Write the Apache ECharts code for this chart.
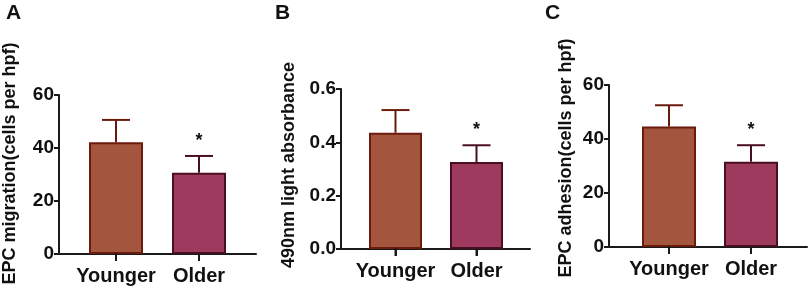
<!DOCTYPE html>
<html>
<head>
<meta charset="utf-8">
<script src="https://cdn.jsdelivr.net/npm/echarts@6/dist/echarts.min.js"></script>
<style>
  html, body { margin: 0; padding: 0; background: #fff; }
  #chart { width: 810px; height: 305px; }
</style>
</head>
<body>
<div id="chart"></div>
<script>
// data
const groups = ['Younger', 'Older'];
const migrationMean = [42.2, 30.7];
const migrationSd = [8.4, 6.3];
const absorbMean = [0.436, 0.326];
const absorbSd = [0.085, 0.063];
const adhesionMean = [44.6, 31.6];
const adhesionSd = [7.9, 6.1];
const stars = ['', '*'];
const panelLetters = ['A', 'B', 'C'];
const yNames = ['EPC migration(cells per hpf)', '490nm light absorbance', 'EPC adhesion(cells per hpf)'];
const yMax = [60, 0.6, 60];
const yStep = [20, 0.2, 20];

const fills = ['#A3553D', '#9D3A5D'];
const borders = ['#6B1B0E', '#4A0E22'];
const axisColor = '#1a1a1a';
const font = 'Liberation Sans, Arial, sans-serif';

// frame = axis box, bars = narrower grid so bars sit where they are in the figure
const layout = [
  { frameLeft: 57, frameRight: 256, top: 95, bottom: 254, barLeft: 74.5, barRight: 240.5, barW: 54, nameGap: 40, nameShift: 22 },
  { frameLeft: 341, frameRight: 530, top: 89, bottom: 249, barLeft: 355, barRight: 517, barW: 53, nameGap: 43, nameShift: 8 },
  { frameLeft: 609, frameRight: 807, top: 85, bottom: 247, barLeft: 628, barRight: 792, barW: 54, nameGap: 34, nameShift: 16 }
];
const means = [migrationMean, absorbMean, adhesionMean];
const sds = [migrationSd, absorbSd, adhesionSd];

const grids = [], xAxes = [], yAxes = [], series = [];

layout.forEach((L, p) => {
  const fi = p * 2, bi = p * 2 + 1;
  grids.push({ left: L.frameLeft, width: L.frameRight - L.frameLeft, top: L.top, height: L.bottom - L.top });
  grids.push({ left: L.barLeft, width: L.barRight - L.barLeft, top: L.top, height: L.bottom - L.top });

  // frame axes
  xAxes.push({
    gridIndex: fi, type: 'value', min: 0, max: 1,
    axisLine: { show: true, onZero: false, lineStyle: { color: axisColor, width: 2 } },
    axisTick: { show: false }, axisLabel: { show: false }, splitLine: { show: false }
  });
  yAxes.push({
    gridIndex: fi, type: 'value', min: 0, max: yMax[p], interval: yStep[p],
    name: yNames[p], nameLocation: 'middle', nameGap: L.nameGap, nameRotate: 90,
    nameTextStyle: { fontFamily: font, fontWeight: 'bold', fontSize: 18, color: '#111',
                     padding: [0, 0, 0, L.nameShift] },
    axisLine: { show: true, lineStyle: { color: axisColor, width: 2 } },
    axisTick: { show: true, length: 5, lineStyle: { color: axisColor, width: 2 } },
    axisLabel: {
      fontFamily: font, fontWeight: 'bold', fontSize: 19, color: '#111', margin: 5,
      formatter: v => p === 1 ? v.toFixed(1) : String(v)
    },
    splitLine: { show: false }
  });

  // bar axes: line drawn over the frame line, ticks under each bar
  xAxes.push({
    gridIndex: bi, type: 'category', data: groups, position: 'bottom',
    axisLine: { show: true, onZero: false, lineStyle: { color: axisColor, width: 2 } },
    axisTick: { show: true, inside: false, alignWithLabel: true, interval: 0, length: 7,
                lineStyle: { color: axisColor, width: 2 } },
    axisLabel: { fontFamily: font, fontWeight: 'bold', fontSize: 20, color: '#111', margin: 12, interval: 0 }
  });
  yAxes.push({
    gridIndex: bi, type: 'value', min: 0, max: yMax[p], interval: yStep[p], show: false
  });

  series.push({
    type: 'bar', xAxisIndex: bi, yAxisIndex: bi, barWidth: L.barW,
    data: means[p].map((v, i) => ({
      value: v,
      itemStyle: { color: fills[i], borderColor: borders[i], borderWidth: 2 }
    })),
    silent: true, z: 2
  });

  // error bars and significance star
  series.push({
    type: 'custom', xAxisIndex: bi, yAxisIndex: bi, silent: true, z: 3, clip: false,
    data: means[p].map((v, i) => [i, v, v + sds[p][i]]),
    renderItem: (params, api) => {
      const i = api.value(0);
      const zero = api.coord([i, 0]);
      const base = api.coord([i, api.value(1)]);
      const top = api.coord([i, api.value(2)]);
      const col = borders[i];
      const half = 14;
      const children = [
        { type: 'line', shape: { x1: base[0], y1: base[1], x2: top[0], y2: top[1] },
          style: { stroke: col, lineWidth: 2 } },
        { type: 'line', shape: { x1: top[0] - half, y1: top[1], x2: top[0] + half, y2: top[1] },
          style: { stroke: col, lineWidth: 2 } },
        // x tick under the bar
        { type: 'line', shape: { x1: zero[0], y1: zero[1] - 1, x2: zero[0], y2: zero[1] + 7 },
          style: { stroke: axisColor, lineWidth: 2 } }
      ];
      if (stars[i]) {
        children.push({
          type: 'text',
          style: { text: stars[i], x: top[0], y: top[1] - 6, align: 'center', verticalAlign: 'bottom',
                   fontFamily: font, fontWeight: 'bold', fontSize: 18, fill: '#111' }
        });
      }
      return { type: 'group', children };
    }
  });
});

const letterX = [6, 275, 545];
const chart = echarts.init(document.getElementById('chart'), null, { renderer: 'canvas' });
chart.setOption({
  animation: false,
  backgroundColor: '#fff',
  grid: grids,
  xAxis: xAxes,
  yAxis: yAxes,
  series: series,
  graphic: panelLetters.map((t, i) => ({
    type: 'text', left: letterX[i], top: 3,
    style: { text: t, fontFamily: font, fontWeight: 'bold', fontSize: 21, fill: '#111' }
  }))
});
</script>
</body>
</html>
